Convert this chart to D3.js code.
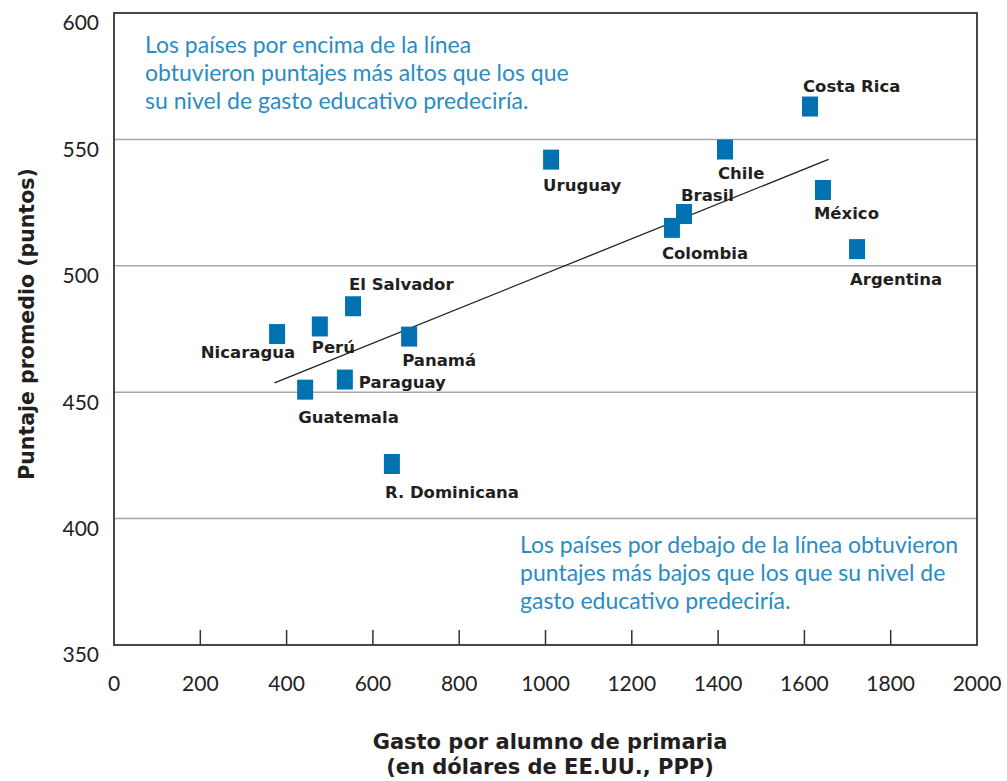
<!DOCTYPE html>
<html>
<head>
<meta charset="utf-8">
<title>Gasto por alumno y puntaje promedio</title>
<script src="https://d3js.org/d3.v7.min.js"></script>
<style>
  body { margin: 0; background: #fff; }
  .tick-label { font-family: Lato, "Open Sans", sans-serif; font-size: 21px; fill: #222; }
  .title { font-family: "DejaVu Sans", sans-serif; font-weight: bold; fill: #231f20; }
  .country { font-family: "DejaVu Sans", sans-serif; font-weight: bold; font-size: 16.5px; fill: #231f20; }
  .note { font-family: Lato, "Open Sans", sans-serif; font-size: 23px; fill: #2b8cc4; }
</style>
</head>
<body>
<svg width="1007" height="781"></svg>
<script>
// datos
var countries = ["Nicaragua", "Perú", "El Salvador", "Panamá", "Paraguay", "Guatemala", "R. Dominicana",
                 "Costa Rica", "Uruguay", "Chile", "Brasil", "Colombia", "México", "Argentina"];
var gasto = [378, 477, 554, 684, 535, 443, 644, 1613, 1013, 1416, 1321, 1293, 1643, 1722];
var puntaje = [473, 476, 484, 472, 455, 451, 421.6, 563, 542, 546, 520.5, 515, 530, 506.6];
// posicion de la etiqueta respecto al punto (px) y anclaje
var labelDx = [18, -8, -4, -7, 14, -7, -7, -7, -8, -7, -3, -10, -9, -7];
var labelDy = [18, 21, -22, 23, 2, 27, 28, -20, 25, 24, -19, 25, 23, 30];
var labelAnchor = ["end", "start", "start", "start", "start", "start", "start",
                   "start", "start", "start", "start", "start", "start", "start"];

var trendX = [372, 1656];
var trendY = [453.7, 542.1];

var xTicks = [0, 200, 400, 600, 800, 1000, 1200, 1400, 1600, 1800, 2000];
var yTicks = [350, 400, 450, 500, 550, 600];

var noteTop = ["Los países por encima de la línea",
               "obtuvieron puntajes más altos que los que",
               "su nivel de gasto educativo predeciría."];
var noteBottom = ["Los países por debajo de la línea obtuvieron",
                  "puntajes más bajos que los que su nivel de",
                  "gasto educativo predeciría."];

var svg = d3.select("svg");
var x = d3.scaleLinear().domain([0, 2000]).range([114, 977]);
var y = d3.scaleLinear().domain([350, 600]).range([645, 13]);

// lineas horizontales
svg.selectAll(".grid")
  .data(yTicks.filter(function (d) { return d > 350 && d < 600; }))
  .enter().append("line")
  .attr("x1", x(0)).attr("x2", x(2000))
  .attr("y1", function (d) { return y(d); })
  .attr("y2", function (d) { return y(d); })
  .attr("stroke", "#a8a8a8")
  .attr("stroke-width", 1.5);

// marcas del eje x (hacia adentro)
svg.selectAll(".xtick")
  .data(xTicks.filter(function (d) { return d > 0 && d < 2000; }))
  .enter().append("line")
  .attr("x1", function (d) { return x(d); })
  .attr("x2", function (d) { return x(d); })
  .attr("y1", y(350)).attr("y2", y(350) - 15)
  .attr("stroke", "#333").attr("stroke-width", 1.5);

// marco
svg.append("rect")
  .attr("x", x(0)).attr("y", y(600))
  .attr("width", x(2000) - x(0)).attr("height", y(350) - y(600))
  .attr("fill", "none").attr("stroke", "#333").attr("stroke-width", 1.8);

// etiquetas de los ejes
svg.selectAll(".xlab")
  .data(xTicks).enter().append("text")
  .attr("class", "tick-label")
  .attr("x", function (d) { return x(d); })
  .attr("y", y(350) + 39)
  .attr("dy", "0.35em")
  .attr("text-anchor", "middle")
  .text(function (d) { return d; });

svg.selectAll(".ylab")
  .data(yTicks).enter().append("text")
  .attr("class", "tick-label")
  .attr("x", 99)
  .attr("y", function (d) { return y(d) + 10; })
  .attr("dy", "0.35em")
  .attr("text-anchor", "end")
  .text(function (d) { return d; });

// titulos
svg.append("text").attr("class", "title")
  .attr("transform", "translate(34,324) rotate(-90)")
  .attr("text-anchor", "middle")
  .style("font-size", "20.5px")
  .text("Puntaje promedio (puntos)");

svg.append("text").attr("class", "title")
  .attr("x", 550).attr("y", 749).attr("text-anchor", "middle")
  .style("font-size", "21px")
  .text("Gasto por alumno de primaria");
svg.append("text").attr("class", "title")
  .attr("x", 550).attr("y", 774).attr("text-anchor", "middle")
  .style("font-size", "21px")
  .text("(en dólares de EE.UU., PPP)");

// notas
svg.append("text").attr("class", "note")
  .selectAll("tspan").data(noteTop).enter().append("tspan")
  .attr("x", 145).attr("y", function (d, i) { return 53 + i * 28; })
  .text(function (d) { return d; });

svg.append("text").attr("class", "note")
  .selectAll("tspan").data(noteBottom).enter().append("tspan")
  .attr("x", 520).attr("y", function (d, i) { return 553 + i * 28; })
  .text(function (d) { return d; });

// linea de tendencia
svg.append("line")
  .attr("x1", x(trendX[0])).attr("y1", y(trendY[0]))
  .attr("x2", x(trendX[1])).attr("y2", y(trendY[1]))
  .attr("stroke", "#231f20").attr("stroke-width", 1.3);

// puntos
svg.selectAll(".pt")
  .data(countries).enter().append("rect")
  .attr("x", function (d, i) { return x(gasto[i]) - 8; })
  .attr("y", function (d, i) { return y(puntaje[i]) - 10; })
  .attr("width", 16).attr("height", 20)
  .attr("fill", "#0072b1");

svg.selectAll(".country")
  .data(countries).enter().append("text")
  .attr("class", "country")
  .attr("x", function (d, i) { return x(gasto[i]) + labelDx[i]; })
  .attr("y", function (d, i) { return y(puntaje[i]) + labelDy[i]; })
  .attr("dy", "0.36em")
  .attr("text-anchor", function (d, i) { return labelAnchor[i]; })
  .text(function (d) { return d; });
</script>
</body>
</html>
